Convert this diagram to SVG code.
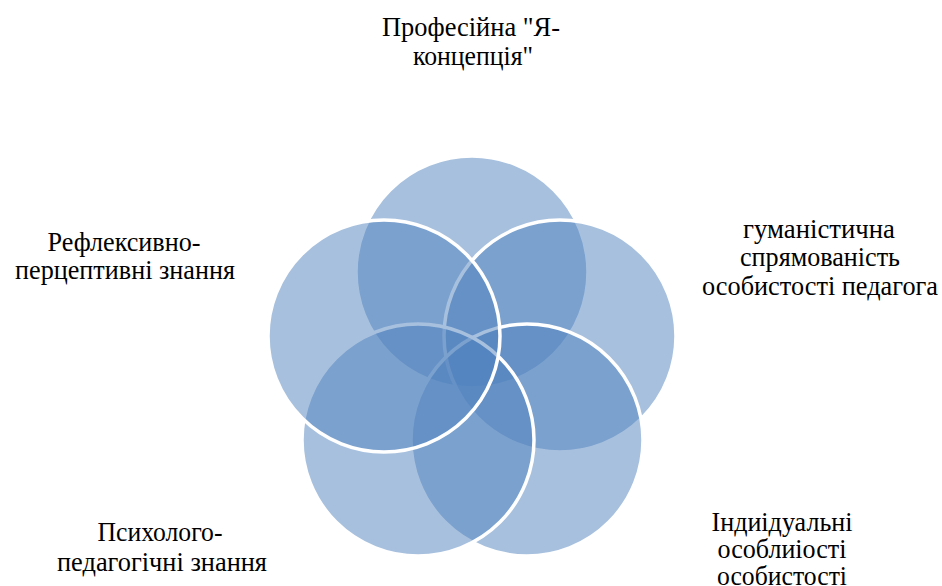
<svg xmlns="http://www.w3.org/2000/svg" width="942" height="586" viewBox="0 0 942 586">
<style>
.c{fill:#4F81BD;fill-opacity:0.5;stroke:#FFFFFF;stroke-width:3.5}
text{font-family:"Liberation Serif","Times New Roman","DejaVu Serif",serif;font-size:26.5px;fill:#000000;text-anchor:middle}
</style>
<rect width="942" height="586" fill="#FFFFFF"/>
<g id="circle-top"><circle class="c" cx="472" cy="272" r="116"/></g>
<g id="circle-right"><circle class="c" cx="560" cy="336" r="116"/></g>
<g id="circle-bottom-right"><circle class="c" cx="527" cy="440" r="116"/></g>
<g id="circle-bottom-left"><circle class="c" cx="418" cy="440" r="116"/></g>
<g id="circle-left"><circle class="c" cx="384" cy="336" r="116"/></g>
<g id="label-top"><text x="471" y="36" textLength="178" lengthAdjust="spacingAndGlyphs">Професійна "Я-</text><text x="473" y="65" textLength="120" lengthAdjust="spacingAndGlyphs">концепція"</text></g>
<g id="label-right"><text x="819" y="238" textLength="152" lengthAdjust="spacingAndGlyphs">гуманістична</text><text x="820" y="266" textLength="160" lengthAdjust="spacingAndGlyphs">спрямованість</text><text x="820" y="295" textLength="236" lengthAdjust="spacingAndGlyphs">особистості  педагога</text></g>
<g id="label-bottom-right"><text x="782" y="531" textLength="141" lengthAdjust="spacingAndGlyphs">Індиідуальні</text><text x="782" y="558" textLength="129" lengthAdjust="spacingAndGlyphs">особлиіості</text><text x="782" y="585" textLength="130" lengthAdjust="spacingAndGlyphs">особистості</text></g>
<g id="label-bottom-left"><text x="160" y="541" textLength="125" lengthAdjust="spacingAndGlyphs">Психолого-</text><text x="162" y="571" textLength="210" lengthAdjust="spacingAndGlyphs">педагогічні знання</text></g>
<g id="label-left"><text x="124" y="251" textLength="153" lengthAdjust="spacingAndGlyphs">Рефлексивно-</text><text x="125" y="279" textLength="220" lengthAdjust="spacingAndGlyphs">перцептивні знання</text></g>
</svg>
